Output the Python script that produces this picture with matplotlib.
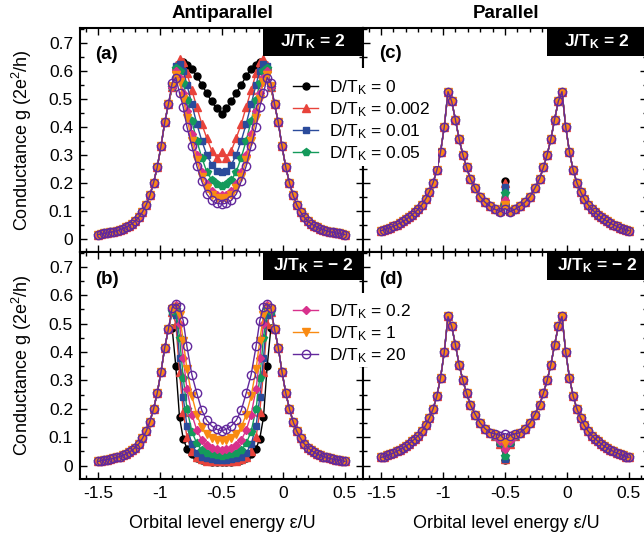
import numpy as np
import matplotlib.pyplot as plt
from matplotlib.patches import Rectangle
from matplotlib.ticker import MultipleLocator

plt.rcParams['font.family'] = 'Liberation Sans'
plt.rcParams['mathtext.fontset'] = 'custom'
plt.rcParams['mathtext.rm'] = 'Liberation Sans'
plt.rcParams['mathtext.it'] = 'Liberation Sans:italic'
plt.rcParams['mathtext.bf'] = 'Liberation Sans:bold'

# orbital level energy grid (eps/U)
x_left = [-1.5, -1.475, -1.45, -1.425, -1.4, -1.375, -1.35, -1.325, -1.3, -1.275, -1.25,
          -1.225, -1.2, -1.17, -1.14, -1.11, -1.08, -1.05, -1.02, -0.99, -0.96, -0.93]
x_core = [-0.9, -0.87, -0.84, -0.81, -0.78, -0.74, -0.7, -0.66, -0.62, -0.58, -0.54, -0.5,
          -0.46, -0.42, -0.38, -0.34, -0.3, -0.26, -0.22, -0.19, -0.16, -0.13, -0.1]
x_right = [-0.07, -0.04, -0.01, 0.02, 0.05, 0.08, 0.11, 0.14, 0.17, 0.2, 0.225,
           0.25, 0.275, 0.3, 0.325, 0.35, 0.375, 0.4, 0.425, 0.45, 0.475, 0.5]

labels = ['0', '0.002', '0.01', '0.05', '0.2', '1', '20']
colors = ['#000000', '#e8433b', '#2b4b9b', '#149a5b', '#d8318c', '#f98a12', '#62289c']
markers = ['o', '^', 's', 'p', 'D', 'v', 'o']
msizes = [5, 5.5, 4.8, 5.5, 4, 5.5, 6]

# antiparallel: common tails
tail_ab_left = [0.015, 0.017, 0.019, 0.021, 0.023, 0.026, 0.029, 0.032, 0.036, 0.041, 0.047,
                0.054, 0.063, 0.077, 0.096, 0.121, 0.155, 0.2, 0.257, 0.33, 0.415, 0.48]
tail_ab_right = [0.48, 0.415, 0.33, 0.257, 0.2, 0.155, 0.121, 0.096, 0.077, 0.063, 0.054,
                 0.047, 0.041, 0.036, 0.032, 0.029, 0.026, 0.023, 0.021, 0.019, 0.017, 0.015]

# antiparallel J/TK = 2, central part of each curve
core_a = [
    [0.54, 0.6, 0.625, 0.63, 0.62, 0.605, 0.58, 0.55, 0.52, 0.49, 0.465, 0.447,
     0.465, 0.49, 0.52, 0.55, 0.58, 0.605, 0.62, 0.63, 0.625, 0.6, 0.54],
    [0.54, 0.62, 0.64, 0.63, 0.59, 0.53, 0.47, 0.41, 0.36, 0.315, 0.29, 0.31,
     0.29, 0.315, 0.36, 0.41, 0.47, 0.53, 0.59, 0.63, 0.64, 0.62, 0.54],
    [0.54, 0.615, 0.625, 0.6, 0.55, 0.48, 0.41, 0.35, 0.3, 0.265, 0.243, 0.237,
     0.243, 0.265, 0.3, 0.35, 0.41, 0.48, 0.55, 0.6, 0.625, 0.615, 0.54],
    [0.54, 0.61, 0.6, 0.555, 0.495, 0.42, 0.35, 0.29, 0.24, 0.21, 0.195, 0.19,
     0.195, 0.21, 0.24, 0.29, 0.35, 0.42, 0.495, 0.555, 0.6, 0.61, 0.54],
    [0.54, 0.6, 0.575, 0.52, 0.455, 0.375, 0.3, 0.24, 0.195, 0.17, 0.158, 0.155,
     0.158, 0.17, 0.195, 0.24, 0.3, 0.375, 0.455, 0.52, 0.575, 0.6, 0.54],
    [0.545, 0.585, 0.56, 0.5, 0.43, 0.35, 0.28, 0.22, 0.18, 0.155, 0.145, 0.142,
     0.145, 0.155, 0.18, 0.22, 0.28, 0.35, 0.43, 0.5, 0.56, 0.585, 0.545],
    [0.555, 0.575, 0.52, 0.47, 0.4, 0.33, 0.26, 0.205, 0.16, 0.137, 0.127, 0.124,
     0.127, 0.137, 0.16, 0.205, 0.26, 0.33, 0.4, 0.47, 0.52, 0.575, 0.555],
]

# antiparallel J/TK = -2
core_b = [
    [0.485, 0.35, 0.17, 0.095, 0.06, 0.04, 0.028, 0.02, 0.016, 0.014, 0.013, 0.012,
     0.013, 0.014, 0.016, 0.02, 0.028, 0.04, 0.06, 0.095, 0.17, 0.35, 0.485],
    [0.54, 0.5, 0.33, 0.19, 0.1, 0.05, 0.03, 0.022, 0.018, 0.016, 0.015, 0.015,
     0.015, 0.016, 0.018, 0.022, 0.03, 0.05, 0.1, 0.19, 0.33, 0.5, 0.54],
    [0.54, 0.53, 0.38, 0.24, 0.14, 0.075, 0.045, 0.032, 0.026, 0.023, 0.021, 0.02,
     0.021, 0.023, 0.026, 0.032, 0.045, 0.075, 0.14, 0.24, 0.38, 0.53, 0.54],
    [0.545, 0.55, 0.45, 0.31, 0.2, 0.12, 0.078, 0.055, 0.045, 0.04, 0.036, 0.035,
     0.036, 0.04, 0.045, 0.055, 0.078, 0.12, 0.2, 0.31, 0.45, 0.55, 0.545],
    [0.55, 0.565, 0.5, 0.38, 0.27, 0.18, 0.125, 0.09, 0.072, 0.062, 0.057, 0.055,
     0.057, 0.062, 0.072, 0.09, 0.125, 0.18, 0.27, 0.38, 0.5, 0.565, 0.55],
    [0.55, 0.56, 0.53, 0.44, 0.34, 0.245, 0.18, 0.135, 0.11, 0.098, 0.092, 0.09,
     0.092, 0.098, 0.11, 0.135, 0.18, 0.245, 0.34, 0.44, 0.53, 0.56, 0.55],
    [0.555, 0.57, 0.56, 0.51, 0.42, 0.32, 0.255, 0.195, 0.16, 0.14, 0.128, 0.123,
     0.128, 0.14, 0.16, 0.195, 0.255, 0.32, 0.42, 0.51, 0.56, 0.57, 0.555],
]

# parallel: curve shared by all D, only the middle differs
base_cd = [0.029, 0.032, 0.036, 0.04, 0.045, 0.05, 0.056, 0.062, 0.069, 0.077, 0.086,
           0.095, 0.106, 0.122, 0.142, 0.168, 0.2, 0.245, 0.31, 0.4, 0.525, 0.49,
           0.425, 0.355, 0.3, 0.255, 0.215, 0.18, 0.15, 0.13, 0.116, 0.105, 0.098, 0.1,
           0.098, 0.105, 0.116, 0.13, 0.15, 0.18, 0.215, 0.255, 0.3, 0.355, 0.425,
           0.49, 0.525, 0.4, 0.31, 0.245, 0.2, 0.168, 0.142, 0.122, 0.106, 0.095,
           0.086, 0.077, 0.069, 0.062, 0.056, 0.05, 0.045, 0.04, 0.036, 0.032, 0.029]
# values at eps/U = -0.58, -0.54, -0.5, -0.46, -0.42
mid_c = [
    [0.105, 0.1, 0.205, 0.1, 0.105],
    [0.105, 0.1, 0.2, 0.1, 0.105],
    [0.105, 0.099, 0.185, 0.099, 0.105],
    [0.105, 0.099, 0.165, 0.099, 0.105],
    [0.105, 0.098, 0.14, 0.098, 0.105],
    [0.105, 0.098, 0.12, 0.098, 0.105],
    [0.105, 0.097, 0.108, 0.097, 0.105],
]
mid_d = [
    [0.103, 0.075, 0.02, 0.075, 0.103],
    [0.103, 0.077, 0.022, 0.077, 0.103],
    [0.104, 0.078, 0.025, 0.078, 0.104],
    [0.105, 0.082, 0.035, 0.082, 0.105],
    [0.106, 0.088, 0.058, 0.088, 0.106],
    [0.108, 0.096, 0.078, 0.096, 0.108],
    [0.112, 0.106, 0.113, 0.106, 0.112],
]

eps = np.array(x_left + x_core + x_right)
mid = (eps > -0.59) & (eps < -0.41)

fig = plt.figure(figsize=(6.44, 5.38), dpi=100)
W, H = 644, 538
L, M, R = 80 / W, 363 / W, 647 / W
T, C, B = 1 - 28 / H, 1 - 252 / H, 1 - 479 / H
ax_a = fig.add_axes([L, C, M - L, T - C])
ax_c = fig.add_axes([M, C, R - M, T - C])
ax_b = fig.add_axes([L, B, M - L, C - B])
ax_d = fig.add_axes([M, B, R - M, C - B])


def draw(ax, i, y):
    face = 'none' if i == 6 else colors[i]
    ln, = ax.plot(eps, y, color=colors[i], lw=1, marker=markers[i], ms=msizes[i],
                  mfc=face, mec=colors[i], mew=1,
                  label='D/T$_\\mathrm{K}$ = ' + labels[i])
    return ln


lines_a, lines_b = [], []
for i in range(7):
    lines_a.append(draw(ax_a, i, tail_ab_left + core_a[i] + tail_ab_right))
    lines_b.append(draw(ax_b, i, tail_ab_left + core_b[i] + tail_ab_right))
    yc = np.array(base_cd)
    yc[mid] = mid_c[i]
    draw(ax_c, i, yc)
    yd = np.array(base_cd)
    yd[mid] = mid_d[i]
    draw(ax_d, i, yd)

boxes = {ax_a: '2', ax_c: '2', ax_b: '\u2212 2', ax_d: '\u2212 2'}
for ax in [ax_a, ax_b, ax_c, ax_d]:
    ax.set_xlim(-1.646, 0.646)
    ax.set_ylim(-0.047, 0.752)
    ax.xaxis.set_major_locator(MultipleLocator(0.5))
    ax.xaxis.set_minor_locator(MultipleLocator(0.1))
    ax.yaxis.set_major_locator(MultipleLocator(0.1))
    ax.yaxis.set_minor_locator(MultipleLocator(0.05))
    ax.tick_params(which='both', direction='in', top=True, right=True, width=1,
                   labelsize=12.5, pad=5)
    ax.tick_params(which='major', length=5)
    ax.tick_params(which='minor', length=3)
    for s in ax.spines.values():
        s.set_linewidth(1.5)
    ax.set_xticks([-1.5, -1, -0.5, 0, 0.5], ['-1.5', '-1', '-0.5', '0', '0.5'])
    ax.set_yticks([0, 0.1, 0.2, 0.3, 0.4, 0.5, 0.6, 0.7],
                  ['0', '0.1', '0.2', '0.3', '0.4', '0.5', '0.6', '0.7'])
    bw = 100 / (ax.get_position().width * W)
    bh = 28 / (ax.get_position().height * H)
    ax.add_patch(Rectangle((1 - bw, 1 - bh), bw, bh, transform=ax.transAxes,
                           facecolor='black', edgecolor='none', clip_on=False, zorder=6))
    ax.text(1 - bw / 2, 1 - bh / 2, 'J/T$_\\mathbf{K}$ = ' + boxes[ax], transform=ax.transAxes,
            ha='center', va='center', color='white', fontsize=12.5, fontweight='bold',
            zorder=7)

for ax in [ax_a, ax_c]:
    ax.tick_params(labelbottom=False)
for ax in [ax_c, ax_d]:
    ax.tick_params(labelleft=False)

# white patches hide the shared spine behind the legend text
for top, bot in [(68, 166), (293, 367)]:
    fig.add_artist(Rectangle((338 / W, 1 - bot / H), 100 / W, (bot - top) / H,
                             transform=fig.transFigure, facecolor='white',
                             edgecolor='none', zorder=3))

leg_kw = dict(loc='upper left', frameon=False, borderpad=0, handlelength=1.45,
              handletextpad=0.6, labelspacing=0.2, fontsize=12.5, borderaxespad=0)
fig.legend(handles=lines_a[:4], bbox_to_anchor=(293 / W, 1 - 78 / H), **leg_kw)
fig.legend(handles=lines_b[4:], bbox_to_anchor=(293 / W, 1 - 302 / H), **leg_kw)

for lab, px, py in [('(a)', 95, 55), ('(b)', 95, 279), ('(c)', 379, 54), ('(d)', 379, 279)]:
    fig.text(px / W, 1 - py / H, lab, fontsize=13.5, fontweight='bold', ha='left', va='center')

fig.text(222 / W, 1 - 13 / H, 'Antiparallel', fontsize=13.5, fontweight='bold',
         ha='center', va='center')
fig.text(506 / W, 1 - 13 / H, 'Parallel', fontsize=13.5, fontweight='bold',
         ha='center', va='center')
for py in [140, 365]:
    fig.text(22 / W, 1 - py / H, 'Conductance g (2e$^2$/h)', fontsize=13, rotation=90,
             ha='center', va='center')
for px in [222, 506]:
    fig.text(px / W, 1 - 523 / H, 'Orbital level energy \u03b5/U', fontsize=13,
             ha='center', va='center')

fig.savefig('out.png', dpi=100)
